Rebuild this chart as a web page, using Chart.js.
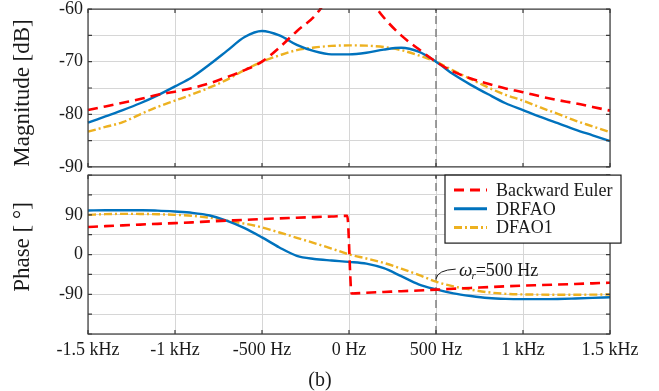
<!DOCTYPE html>
<html>
<head>
<meta charset="utf-8">
<script src="https://cdn.jsdelivr.net/npm/chart.js@4.4.1/dist/chart.umd.min.js"></script>
<style>
  body { margin: 0; background: #fff; }
  #wrap { position: relative; width: 659px; height: 391px; overflow: hidden;
          font-family: 'Liberation Serif', 'Times New Roman', serif; color: #1a1a1a; }
  canvas { position: absolute; left: 0; }
  #magCanvas { top: -4px; }
  #phaseCanvas { top: 162px; }
  .ytitle { position: absolute; font-size: 23px; white-space: nowrap;
            transform: translate(-50%, -50%) rotate(-90deg); }
  #caption { position: absolute; left: 320px; top: 379px; font-size: 20px;
             transform: translate(-50%, -50%); }
</style>
</head>
<body>
<div id="wrap">
  <canvas id="magCanvas" width="659" height="184"></canvas>
  <canvas id="phaseCanvas" width="659" height="229"></canvas>
  <div class="ytitle" style="left:22px; top:93px;">Magnitude [dB]</div>
  <div class="ytitle" style="left:22px; top:247px;">Phase [ °]</div>
  <div id="caption">(b)</div>
</div>

<script>
// frequency grid shared by the DRFAO / DFAO1 curves (Hz)
const freqHz = [-1500, -1400, -1300, -1200, -1100, -1000, -900, -800, -700, -600, -500,
                -400, -300, -200, -100, 0, 100, 200, 300, 400, 500,
                600, 700, 800, 900, 1000, 1100, 1200, 1300, 1400, 1500];

// magnitude in dB
const drfaoMag = [-81.6, -80.4, -79.2, -77.9, -76.4, -74.7, -72.9, -70.5, -67.9, -65.3, -64.15,
                  -65.0, -66.8, -68.0, -68.6, -68.6, -68.3, -67.7, -67.35, -68.1, -70.0,
                  -72.4, -74.4, -76.2, -77.9, -79.2, -80.5, -81.7, -82.9, -84.0, -85.1];
const dfao1Mag = [-83.3, -82.4, -81.5, -80.0, -78.6, -77.4, -76.2, -74.9, -73.4, -71.6, -70.0,
                  -68.8, -67.8, -67.3, -67.0, -66.9, -66.95, -67.2, -67.8, -68.8, -70.0,
                  -71.7, -73.3, -74.9, -76.3, -77.4, -78.7, -79.9, -81.2, -82.3, -83.4];

// backward Euler blows up around 0 Hz, so it gets its own denser grid
const eulerMagHz = [-1500, -1400, -1300, -1200, -1100, -1000, -900, -800, -700, -600, -500,
                    -400, -300, -200, -150, -100, -50, 50, 100, 150, 200, 300, 400, 500,
                    600, 700, 800, 900, 1000, 1100, 1200, 1300, 1400, 1500];
const eulerMag = [-79.2, -78.5, -77.8, -77.1, -76.3, -75.7, -75.0, -74.1, -72.9, -71.6, -70.0,
                  -67.3, -64.2, -61.4, -59.3, -56.5, -51.0, -51.0, -56.5, -59.4, -61.6, -65.0, -67.6, -70.0,
                  -71.9, -73.2, -74.2, -75.1, -75.8, -76.6, -77.3, -77.9, -78.6, -79.3];

// phase in degrees
const drfaoPhase = [99.8, 100.3, 100.5, 100.3, 99.6, 97.5, 94.5, 88.5, 76.5, 60, 39,
                    16, -3, -10, -13.5, -16.5, -20.5, -31, -49, -67.5, -79,
                    -88, -94, -98.5, -100.5, -101, -101, -100.6, -99.5, -98.2, -96.8];
const dfao1Phase = [90, 91.5, 92.2, 92, 91.3, 90, 87.5, 83.5, 76.5, 70, 61.5,
                    50, 38, 26, 13.5, 0.5, -9, -19, -32, -46, -61.5,
                    -72, -79.5, -85.5, -89, -90.3, -90.8, -91, -91, -90.8, -90.5];
const eulerPhaseHz = [-1500, -1400, -1300, -1200, -1100, -1000, -900, -800, -700, -600, -500,
                      -400, -300, -200, -100, -10, 15, 100, 200, 300, 400, 500,
                      600, 700, 800, 900, 1000, 1100, 1200, 1300, 1400, 1500];
const eulerPhase = [62.3, 64.3, 66, 67.9, 69.6, 71.2, 72.9, 75.2, 76.9, 78.6, 80.5,
                    82, 83.4, 84.9, 86.3, 87.7, -88.2, -86.5, -84.8, -83, -81.5, -79.5,
                    -77.5, -75.7, -73.8, -72, -70.5, -69.2, -67.9, -66.6, -65.2, -63.8];

const seriesNames = ['Backward Euler', 'DRFAO', 'DFAO1'];
const resonanceHz = 500;   // omega_r, marked with the dashed vertical line
const xTicksHz = [-1500, -1000, -500, 0, 500, 1000, 1500];

const FONT = "'Liberation Serif', 'Times New Roman', serif";

function pts(xs, ys) {
    return xs.map(function(x, i) { return { x: x, y: ys[i] }; });
}

function hzLabel(v) {
    if (Math.abs(v) >= 1000) return (v / 1000) + ' kHz';
    return v + ' Hz';
}

function curve(label, data, color, dash, width) {
    return {
        label: label,
        data: data,
        borderColor: color,
        backgroundColor: color,
        borderDash: dash,
        borderWidth: width,
        pointRadius: 0,
        cubicInterpolationMode: 'monotone',
        clip: 1
    };
}

function markerLine(yMin, yMax) {
    return {
        data: [{ x: resonanceHz, y: yMin }, { x: resonanceHz, y: yMax }],
        borderColor: '#808080',
        borderDash: [8, 5],
        borderWidth: 1.5,
        pointRadius: 0,
        isMarker: true
    };
}

// box, inward ticks, legend and the omega_r note
const panelFrame = {
    id: 'panelFrame',
    afterDraw(chart, args, opts) {
        const ctx = chart.ctx;
        const a = chart.chartArea;
        const xs = chart.scales.x, ys = chart.scales.y;
        ctx.save();

        ctx.strokeStyle = '#3a3a3a';
        ctx.lineWidth = 1.2;
        ctx.setLineDash([]);
        ctx.beginPath();
        xs.ticks.forEach(function(t) {
            const px = xs.getPixelForValue(t.value);
            ctx.moveTo(px, a.top); ctx.lineTo(px, a.top + 4);
            ctx.moveTo(px, a.bottom); ctx.lineTo(px, a.bottom - 4);
        });
        ys.ticks.forEach(function(t) {
            const py = ys.getPixelForValue(t.value);
            ctx.moveTo(a.left, py); ctx.lineTo(a.left + 4, py);
            ctx.moveTo(a.right, py); ctx.lineTo(a.right - 4, py);
        });
        ctx.stroke();
        ctx.strokeRect(a.left, a.top, a.right - a.left, a.bottom - a.top);

        if (opts.note) {
            // leader from the marker line up to the label
            const x0 = xs.getPixelForValue(resonanceHz), y0 = ys.getPixelForValue(-55);
            const cx = xs.getPixelForValue(509), cy = ys.getPixelForValue(-35);
            const x1 = xs.getPixelForValue(613), y1 = ys.getPixelForValue(-33);
            ctx.strokeStyle = '#1a1a1a';
            ctx.lineWidth = 1;
            ctx.beginPath();
            ctx.moveTo(x0, y0);
            ctx.quadraticCurveTo(cx, cy, x1, y1);
            ctx.stroke();

            let tx = xs.getPixelForValue(632);
            const ty = ys.getPixelForValue(-49);
            ctx.fillStyle = '#1a1a1a';
            ctx.textBaseline = 'alphabetic';
            ctx.textAlign = 'left';
            ctx.font = 'italic 19px ' + FONT;
            ctx.fillText('ω', tx, ty);
            tx += ctx.measureText('ω').width;
            ctx.font = 'italic 11px ' + FONT;
            ctx.fillText('r', tx - 1, ty + 3);
            tx += ctx.measureText('r').width - 1;
            ctx.font = '18px ' + FONT;
            ctx.fillText('=' + resonanceHz + ' Hz', tx, ty);
        }

        if (opts.legend) {
            const bx = a.right - 165, by = a.top, bw = 176, bh = 68;
            ctx.fillStyle = '#ffffff';
            ctx.fillRect(bx, by, bw, bh);
            ctx.strokeStyle = '#1a1a1a';
            ctx.lineWidth = 1.2;
            ctx.strokeRect(bx, by, bw, bh);
            const items = chart.data.datasets.filter(function(d) { return !d.isMarker; });
            items.forEach(function(d, i) {
                const ry = by + 15 + i * 18.7;
                ctx.strokeStyle = d.borderColor;
                ctx.lineWidth = 3;
                ctx.setLineDash(d.borderDash);
                ctx.beginPath();
                ctx.moveTo(bx + 9, ry);
                ctx.lineTo(bx + 42, ry);
                ctx.stroke();
                ctx.setLineDash([]);
                ctx.fillStyle = '#1a1a1a';
                ctx.font = '18px ' + FONT;
                ctx.textBaseline = 'middle';
                ctx.fillText(d.label, bx + 51, ry + 1);
            });
        }
        ctx.restore();
    }
};

function panelOptions(yMin, yMax, yStep, yLabel, showX, frameOpts, padTop, padBottom) {
    return {
        responsive: false,
        animation: false,
        layout: { padding: { left: 0, right: 49, top: padTop, bottom: padBottom } },
        plugins: {
            legend: { display: false },
            tooltip: { enabled: false },
            panelFrame: frameOpts
        },
        scales: {
            x: {
                type: 'linear',
                min: -1500, max: 1500,
                afterBuildTicks: function(scale) {
                    scale.ticks = xTicksHz.map(function(v) { return { value: v }; });
                },
                afterFit: function(scale) { scale.height = showX ? 57 : 0; },
                border: { display: false },
                grid: { color: '#d6d6d6', lineWidth: 1, drawTicks: false },
                ticks: {
                    display: showX,
                    padding: 5,
                    maxRotation: 0,
                    autoSkip: false,
                    color: '#1a1a1a',
                    font: { family: FONT, size: 18 },
                    callback: hzLabel
                }
            },
            y: {
                min: yMin, max: yMax,
                afterFit: function(scale) { scale.width = 88; },
                border: { display: false },
                grid: { color: '#d6d6d6', lineWidth: 1, drawTicks: false },
                ticks: {
                    stepSize: yStep,
                    padding: 5,
                    color: '#1a1a1a',
                    font: { family: FONT, size: 18, lineHeight: 0.9 },
                    callback: yLabel
                }
            }
        }
    };
}

new Chart(document.getElementById('magCanvas'), {
    type: 'line',
    data: {
        datasets: [
            curve(seriesNames[0], pts(eulerMagHz, eulerMag), '#ff0000', [10, 6], 2.6),
            curve(seriesNames[1], pts(freqHz, drfaoMag), '#0072bd', [], 2.4),
            curve(seriesNames[2], pts(freqHz, dfao1Mag), '#edb120', [8, 3, 2, 3], 2.4),
            markerLine(-90, -60)
        ]
    },
    options: panelOptions(-90, -60, 5,
        function(v) { return v % 10 === 0 ? String(v) : ''; },
        false, { legend: false, note: false }, 8, 12),
    plugins: [panelFrame]
});

new Chart(document.getElementById('phaseCanvas'), {
    type: 'line',
    data: {
        datasets: [
            curve(seriesNames[0], pts(eulerPhaseHz, eulerPhase), '#ff0000', [10, 6], 2.6),
            curve(seriesNames[1], pts(freqHz, drfaoPhase), '#0072bd', [], 2.4),
            curve(seriesNames[2], pts(freqHz, dfao1Phase), '#edb120', [8, 3, 2, 3], 2.4),
            markerLine(-180, 180)
        ]
    },
    options: panelOptions(-180, 180, 45,
        function(v) { return (v === 0 || Math.abs(v) === 90) ? String(v) : ''; },
        true, { legend: true, note: true }, 9, 0),
    plugins: [panelFrame]
});
</script>
</body>
</html>
